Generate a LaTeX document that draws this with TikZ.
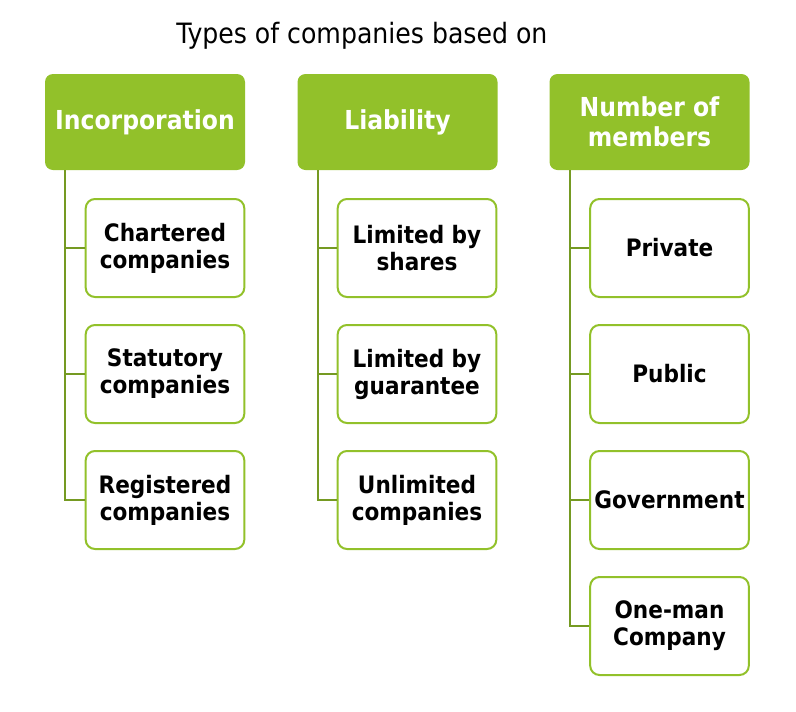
\documentclass[tikz,border=0pt]{standalone}
\usepackage{fontspec}
\setmainfont{DejaVu Sans Condensed}
\definecolor{grn}{HTML}{92C12A}
\begin{document}
\begin{tikzpicture}[x=0.75pt,y=-0.75pt,
  head/.style={draw=none,fill=grn,rounded corners=6pt,minimum width=150pt,minimum height=72pt,
    text=white,font=\bfseries\fontsize{19.6}{22.5}\selectfont,align=center,inner sep=0pt},
  child/.style={draw=grn,line width=1.5pt,fill=white,rounded corners=7pt,minimum width=119pt,minimum height=73.5pt,
    font=\bfseries\fontsize{18}{20.3}\selectfont,align=center,inner sep=0pt},
  conn/.style={draw=grn!80!black,line width=1.2pt}]
\useasboundingbox (0,0) rectangle (796,711);
\node[font=\fontsize{21}{24}\selectfont] (title) at (362,36) {Types of companies based on};
\node[head] (h1) at (145,122) {Incorporation};
\node[head] (h2) at (397.5,122) {Liability};
\node[head] (h3) at (649.5,122) {Number of\\members};
\node[child] (a1) at (165,248) {Chartered\\companies};
\node[child] (a2) at (165,374) {Statutory\\companies};
\node[child] (a3) at (165,500) {Registered\\companies};
\node[child] (b1) at (417,248) {Limited by\\shares};
\node[child] (b2) at (417,374) {Limited by\\guarantee};
\node[child] (b3) at (417,500) {Unlimited\\companies};
\node[child] (c1) at (669.5,248) {Private};
\node[child] (c2) at (669.5,374) {Public};
\node[child] (c3) at (669.5,500) {Government};
\node[child] (c4) at (669.5,626) {One-man\\Company};
\coordinate (ta) at (65,0);
\coordinate (tb) at (318,0);
\coordinate (tc) at (570,0);
\draw[conn] (h1.south -| ta) |- (a3.west);
\draw[conn] (h2.south -| tb) |- (b3.west);
\draw[conn] (h3.south -| tc) |- (c4.west);
\foreach \k in {a1,a2}{\draw[conn] (\k.west -| ta) -- (\k.west);}
\foreach \k in {b1,b2}{\draw[conn] (\k.west -| tb) -- (\k.west);}
\foreach \k in {c1,c2,c3}{\draw[conn] (\k.west -| tc) -- (\k.west);}
\end{tikzpicture}
\end{document}
